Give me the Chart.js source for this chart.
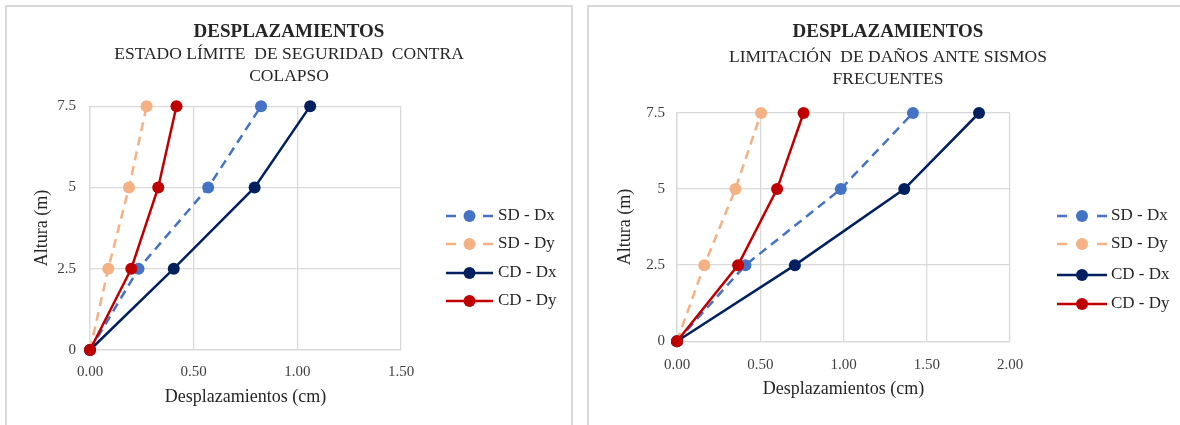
<!DOCTYPE html>
<html>
<head>
<meta charset="utf-8">
<script src="https://cdn.jsdelivr.net/npm/chart.js@4.4.1/dist/chart.umd.min.js"></script>
<style>
  html, body { margin: 0; padding: 0; background: #fff; width: 1180px; height: 425px; overflow: hidden; }
  .panel { position: absolute; top: 5px; border: 2px solid #d9d9d9; background: #fff; }
  #p1 { left: 5px; width: 564px; height: 430px; }
  #p2 { left: 587px; width: 598px; height: 430px; }
  canvas { display: block; }
</style>
</head>
<body>
<div class="panel" id="p1"><canvas id="c1" width="564" height="418"></canvas></div>
<div class="panel" id="p2"><canvas id="c2" width="598" height="418"></canvas></div>
<script>
// ---- data ----
const heights = [0, 2.5, 5, 7.5];
const seriesNames = ['SD - Dx', 'SD - Dy', 'CD - Dx', 'CD - Dy'];

// Estado límite de seguridad contra colapso (cm)
const ultSDDx = [0, 0.234, 0.570, 0.825];
const ultSDDy = [0, 0.088, 0.188, 0.273];
const ultCDDx = [0, 0.404, 0.794, 1.062];
const ultCDDy = [0, 0.199, 0.329, 0.417];

// Limitación de daños ante sismos frecuentes (cm)
const damSDDx = [0, 0.411, 0.984, 1.417];
const damSDDy = [0, 0.164, 0.351, 0.505];
const damCDDx = [0, 0.708, 1.365, 1.814];
const damCDDy = [0, 0.367, 0.601, 0.760];

const yTicks = [0, 2.5, 5, 7.5];
const xTicksLeft = [0, 0.5, 1.0, 1.5];
const xTicksRight = [0, 0.5, 1.0, 1.5, 2.0];

const chartTitle = 'DESPLAZAMIENTOS';
const subLeft = ['ESTADO LÍMITE  DE SEGURIDAD  CONTRA', 'COLAPSO'];
const subRight = ['LIMITACIÓN  DE DAÑOS ANTE SISMOS', 'FRECUENTES'];
const xTitle = 'Desplazamientos (cm)';
const yTitle = 'Altura (m)';

// ---- styles ----
const FONT = "'Liberation Serif', 'Times New Roman', serif";
const styles = [
  { color: '#4472C4', dash: [9, 6], order: 3 },
  { color: '#F4B183', dash: [9, 6], order: 2 },
  { color: '#002060', dash: [], order: 1 },
  { color: '#C00000', dash: [], order: 0 }
];

function pts(xs) { return xs.map((x, i) => ({ x: x, y: heights[i] })); }

function makeDatasets(arrs) {
  return arrs.map((a, i) => ({
    label: seriesNames[i],
    data: pts(a),
    showLine: true,
    borderColor: styles[i].color,
    backgroundColor: styles[i].color,
    borderWidth: 2.5,
    borderDash: styles[i].dash,
    pointRadius: 6,
    pointHoverRadius: 6,
    pointBorderWidth: 0,
    pointBackgroundColor: styles[i].color,
    order: styles[i].order,
    clip: false,
    tension: 0
  }));
}

const sideLegend = {
  id: 'sideLegend',
  afterDraw(chart, args, opts) {
    const ctx = chart.ctx;
    ctx.save();
    chart.data.datasets.forEach((ds, i) => {
      const y = opts.rows[i];
      ctx.strokeStyle = ds.borderColor;
      ctx.lineWidth = ds.borderWidth;
      ctx.beginPath();
      if (ds.borderDash && ds.borderDash.length) {
        ctx.moveTo(opts.x0, y); ctx.lineTo(opts.x0 + 10, y);
        ctx.moveTo(opts.x1 - 10, y); ctx.lineTo(opts.x1, y);
      } else {
        ctx.moveTo(opts.x0, y); ctx.lineTo(opts.x1, y);
      }
      ctx.stroke();
      ctx.fillStyle = ds.pointBackgroundColor;
      ctx.beginPath();
      ctx.arc((opts.x0 + opts.x1) / 2, y, ds.pointRadius, 0, Math.PI * 2);
      ctx.fill();
      ctx.fillStyle = '#262626';
      ctx.font = opts.fontSize + 'px ' + FONT;
      ctx.textBaseline = 'middle';
      ctx.textAlign = 'left';
      ctx.fillText(ds.label, opts.tx, y);
    });
    ctx.restore();
  }
};

function makeChart(id, arrs, sub, xTicks, cfg) {
  return new Chart(document.getElementById(id), {
    type: 'scatter',
    data: { datasets: makeDatasets(arrs) },
    plugins: [sideLegend],
    options: {
      responsive: false,
      animation: false,
      devicePixelRatio: 1,
      layout: { padding: { left: 0, right: 0, top: 0, bottom: cfg.padB } },
      plugins: {
        legend: { display: false },
        tooltip: { enabled: false },
        title: {
          display: true, text: chartTitle, color: '#262626',
          font: { family: FONT, size: 19, weight: 'bold', lineHeight: 1.2 },
          padding: { top: cfg.titleTop, bottom: 0 }
        },
        subtitle: {
          display: true, text: sub, color: '#262626',
          font: { family: FONT, size: 17.5, weight: 'normal', lineHeight: 1.25 },
          padding: { top: cfg.subTop, bottom: cfg.subBottom }
        },
        sideLegend: cfg.legend
      },
      scales: {
        x: {
          type: 'linear',
          min: xTicks[0], max: xTicks[xTicks.length - 1],
          afterBuildTicks(scale) { scale.ticks = xTicks.map(v => ({ value: v })); },
          afterFit(scale) { scale.height = cfg.xH; },
          grid: { color: '#d9d9d9', lineWidth: 1.3, drawTicks: false },
          border: { display: true, color: '#d9d9d9', width: 1.3 },
          ticks: {
            padding: cfg.xTickPad, color: '#404040',
            font: { family: FONT, size: 15 },
            callback: v => Number(v).toFixed(2)
          },
          title: {
            display: true, text: xTitle, color: '#262626',
            font: { family: FONT, size: 18, lineHeight: 1.2 },
            padding: { top: 4, bottom: 4 }
          }
        },
        y: {
          type: 'linear',
          min: yTicks[0], max: yTicks[yTicks.length - 1],
          afterBuildTicks(scale) { scale.ticks = yTicks.map(v => ({ value: v })); },
          afterFit(scale) { scale.width = cfg.yW; },
          grid: { color: '#d9d9d9', lineWidth: 1.3, drawTicks: false },
          border: { display: true, color: '#d9d9d9', width: 1.3 },
          ticks: {
            padding: cfg.yTickPad, color: '#404040',
            font: { family: FONT, size: 15 },
            callback: v => String(v)
          },
          title: {
            display: true, text: yTitle, color: '#262626',
            font: { family: FONT, size: 18, lineHeight: 1.2 },
            padding: { top: cfg.yTitlePad, bottom: 4 }
          }
        },
        yLegendSpace: {
          type: 'linear', axis: 'y', position: 'right', display: true,
          afterFit(scale) { scale.width = cfg.rightW; },
          grid: { display: false, drawTicks: false },
          border: { display: false },
          ticks: { display: false },
          title: { display: false }
        }
      }
    }
  });
}

makeChart('c1', [ultSDDx, ultSDDy, ultCDDx, ultCDDy], subLeft, xTicksLeft, {
  padB: 13, yW: 83, yTitlePad: 24, rightW: 170, xH: 62, xTickPad: 13, yTickPad: 14,
  titleTop: 13.6, subTop: 0, subBottom: 19,
  legend: { x0: 439, x1: 486, tx: 491, rows: [209, 237, 266, 294], fontSize: 17 }
});

makeChart('c2', [damSDDx, damSDDy, damCDDx, damCDDy], subRight, xTicksRight, {
  padB: 21, yW: 88, yTitlePad: 25, rightW: 177, xH: 62.8, xTickPad: 15, yTickPad: 12,
  titleTop: 13.6, subTop: 2.7, subBottom: 23.15,
  legend: { x0: 468, x1: 518, tx: 522, rows: [209, 237, 268, 297], fontSize: 17 }
});
</script>
</body>
</html>
